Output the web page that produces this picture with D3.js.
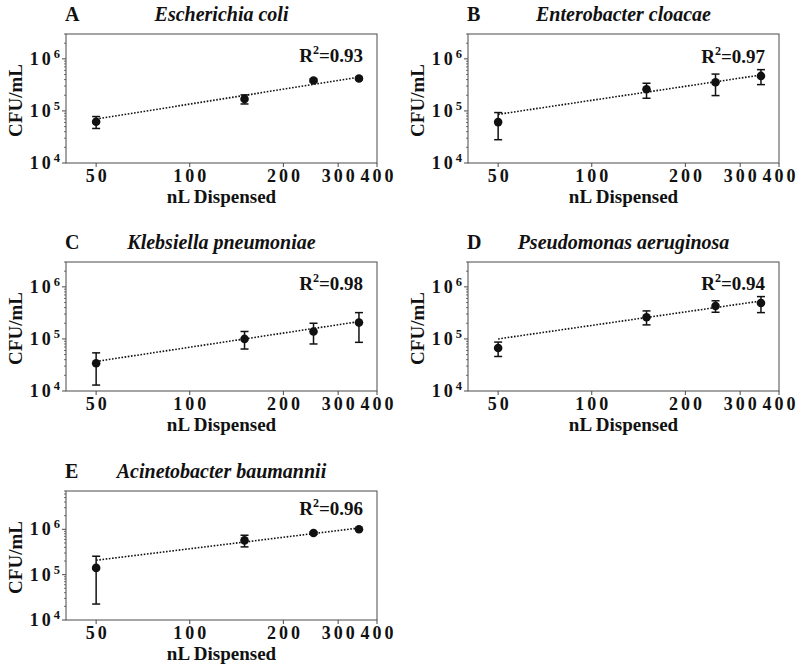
<!DOCTYPE html>
<html>
<head>
<meta charset="utf-8">
<script src="https://cdn.jsdelivr.net/npm/d3@7"></script>
<style>
  html, body { margin: 0; padding: 0; background: #fff; }
  svg { display: block; }
  text { font-family: "Liberation Serif", "Times New Roman", serif; font-weight: bold; fill: #111; }
</style>
</head>
<body>
<svg id="chart" width="800" height="670"></svg>
<script>
// ---------------- data ----------------
const panelLetters = ["A", "B", "C", "D", "E"];
const speciesNames = ["Escherichia coli", "Enterobacter cloacae", "Klebsiella pneumoniae", "Pseudomonas aeruginosa", "Acinetobacter baumannii"];
const rSquared = ["0.93", "0.97", "0.98", "0.94", "0.96"];
const volumes = [50, 150, 250, 350];               // nL dispensed
const xTickValues = [50, 100, 200, 300, 400];
const yTickValues = [1e4, 1e5, 1e6];
const yTickExponents = ["4", "5", "6"];

// mean CFU/mL per panel (A..E), one value per volume
const cfuMean = [
  [6.2e4, 1.70e5, 3.85e5, 4.2e5],
  [6.1e4, 2.6e5, 3.55e5, 4.7e5],
  [3.4e4, 1.0e5, 1.39e5, 2.06e5],
  [6.7e4, 2.6e5, 4.3e5, 4.9e5],
  [1.41e5, 5.7e5, 8.3e5, 1.0e6]
];
// lower / upper ends of the error bars
const cfuLow = [
  [4.6e4, 1.36e5, 3.6e5, 4.0e5],
  [2.8e4, 1.75e5, 1.97e5, 3.2e5],
  [1.3e4, 6.4e4, 8.0e4, 8.6e4],
  [4.6e4, 1.86e5, 3.25e5, 3.2e5],
  [2.25e4, 4.1e5, 7.8e5, 9.6e5]
];
const cfuHigh = [
  [7.8e4, 2.03e5, 4.1e5, 4.4e5],
  [9.3e4, 3.4e5, 5.1e5, 6.2e5],
  [5.4e4, 1.39e5, 2.0e5, 3.2e5],
  [8.7e4, 3.45e5, 5.4e5, 6.5e5],
  [2.55e5, 7.4e5, 8.8e5, 1.04e6]
];
// fitted trend line: value at 50 nL and at 350 nL
const fitAt50 = [7.0e4, 8.6e4, 3.7e4, 1.0e5, 2.08e5];
const fitAt350 = [4.45e5, 4.9e5, 2.15e5, 5.35e5, 1.07e6];
const fitX = [50, 350];
const yMaxPerPanel = [3e6, 3e6, 3e6, 3e6, 7e6];
const xDomain = [40, 400];

// ---------------- layout ----------------
const panelLeft = [66, 468, 66, 468, 66];
const panelTop = [34, 34, 262, 262, 491];
const panelW = 311, panelH = 129;
const r2Offset = [28, 29, 28, 28, 24];

const svg = d3.select("#chart");
const frameColor = "#4a4a4a";

panelLetters.forEach((letter, i) => {
  const L = panelLeft[i], T = panelTop[i], R = L + panelW, B = T + panelH;
  const x = d3.scaleLog().domain(xDomain).range([L, R]);
  const y = d3.scaleLog().domain([1e4, yMaxPerPanel[i]]).range([B, T]);
  const g = svg.append("g");

  // frame
  g.append("rect").attr("x", L).attr("y", T).attr("width", panelW).attr("height", panelH)
    .attr("fill", "none").attr("stroke", frameColor).attr("stroke-width", 1);

  // y minor ticks
  const minor = [];
  for (let e = 4; e <= 6; e++) for (let m = 2; m <= 9; m++) {
    const v = m * Math.pow(10, e);
    if (v <= yMaxPerPanel[i]) minor.push(v);
  }
  g.selectAll(".ymin").data(minor).enter().append("line")
    .attr("x1", L - 2).attr("x2", L).attr("y1", d => y(d)).attr("y2", d => y(d))
    .attr("stroke", frameColor).attr("stroke-width", 0.8);
  // y major ticks
  g.selectAll(".ymaj").data(yTickValues).enter().append("line")
    .attr("x1", L - 4).attr("x2", L).attr("y1", d => y(d)).attr("y2", d => y(d))
    .attr("stroke", frameColor).attr("stroke-width", 1);
  // y tick labels
  yTickValues.forEach((v, k) => {
    const t = g.append("text").attr("x", L - 6).attr("y", y(v) + 6)
      .attr("text-anchor", "end").attr("font-size", 18);
    t.append("tspan").attr("letter-spacing", 3).text("10");
    t.append("tspan").attr("font-size", 12.5).attr("dy", -7).text(yTickExponents[k]);
  });

  // x ticks
  g.selectAll(".xt").data(xTickValues).enter().append("line")
    .attr("x1", d => x(d)).attr("x2", d => x(d)).attr("y1", B).attr("y2", B + 4)
    .attr("stroke", frameColor).attr("stroke-width", 1);
  g.selectAll(".xl").data(xTickValues).enter().append("text")
    .attr("x", d => x(d) + 1.5).attr("y", B + 19)
    .attr("text-anchor", "middle").attr("font-size", 18).attr("letter-spacing", 3)
    .text(d => d);

  // axis labels
  g.append("text").attr("x", (L + R) / 2).attr("y", B + 40)
    .attr("text-anchor", "middle").attr("font-size", 19).text("nL Dispensed");
  g.append("text").attr("transform", `translate(${L - 44},${(T + B) / 2 + 2}) rotate(-90)`)
    .attr("text-anchor", "middle").attr("font-size", 19).text("CFU/mL");

  // titles
  g.append("text").attr("x", L - 1).attr("y", T - 13).attr("font-size", 20).text(letter);
  g.append("text").attr("x", (L + R) / 2).attr("y", T - 13).attr("text-anchor", "middle")
    .attr("font-size", 20).attr("font-style", "italic").text(speciesNames[i]);

  // R^2
  const rt = g.append("text").attr("x", R - 14).attr("y", T + r2Offset[i])
    .attr("text-anchor", "end").attr("font-size", 19);
  rt.append("tspan").text("R");
  rt.append("tspan").attr("font-size", 12).attr("dy", -8).text("2");
  rt.append("tspan").attr("dy", 8).text("=" + rSquared[i]);

  // fit line
  const fitVals = [fitAt50[i], fitAt350[i]];
  g.append("path")
    .attr("d", d3.line().x((d, k) => x(fitX[k])).y(d => y(d))(fitVals))
    .attr("fill", "none").attr("stroke", "#111").attr("stroke-width", 1.6)
    .attr("stroke-dasharray", "1.6,1.6");

  // error bars
  volumes.forEach((v, k) => {
    const cx = x(v);
    const lo = y(cfuLow[i][k]), hi = y(cfuHigh[i][k]);
    g.append("line").attr("x1", cx).attr("x2", cx).attr("y1", lo).attr("y2", hi)
      .attr("stroke", "#111").attr("stroke-width", 1.5);
    [lo, hi].forEach(yy => {
      g.append("line").attr("x1", cx - 4).attr("x2", cx + 4).attr("y1", yy).attr("y2", yy)
        .attr("stroke", "#111").attr("stroke-width", 1.5);
    });
  });
  // points
  g.selectAll(".pt").data(volumes).enter().append("circle")
    .attr("cx", d => x(d)).attr("cy", (d, k) => y(cfuMean[i][k])).attr("r", 4.3)
    .attr("fill", "#111");
});
</script>
</body>
</html>
